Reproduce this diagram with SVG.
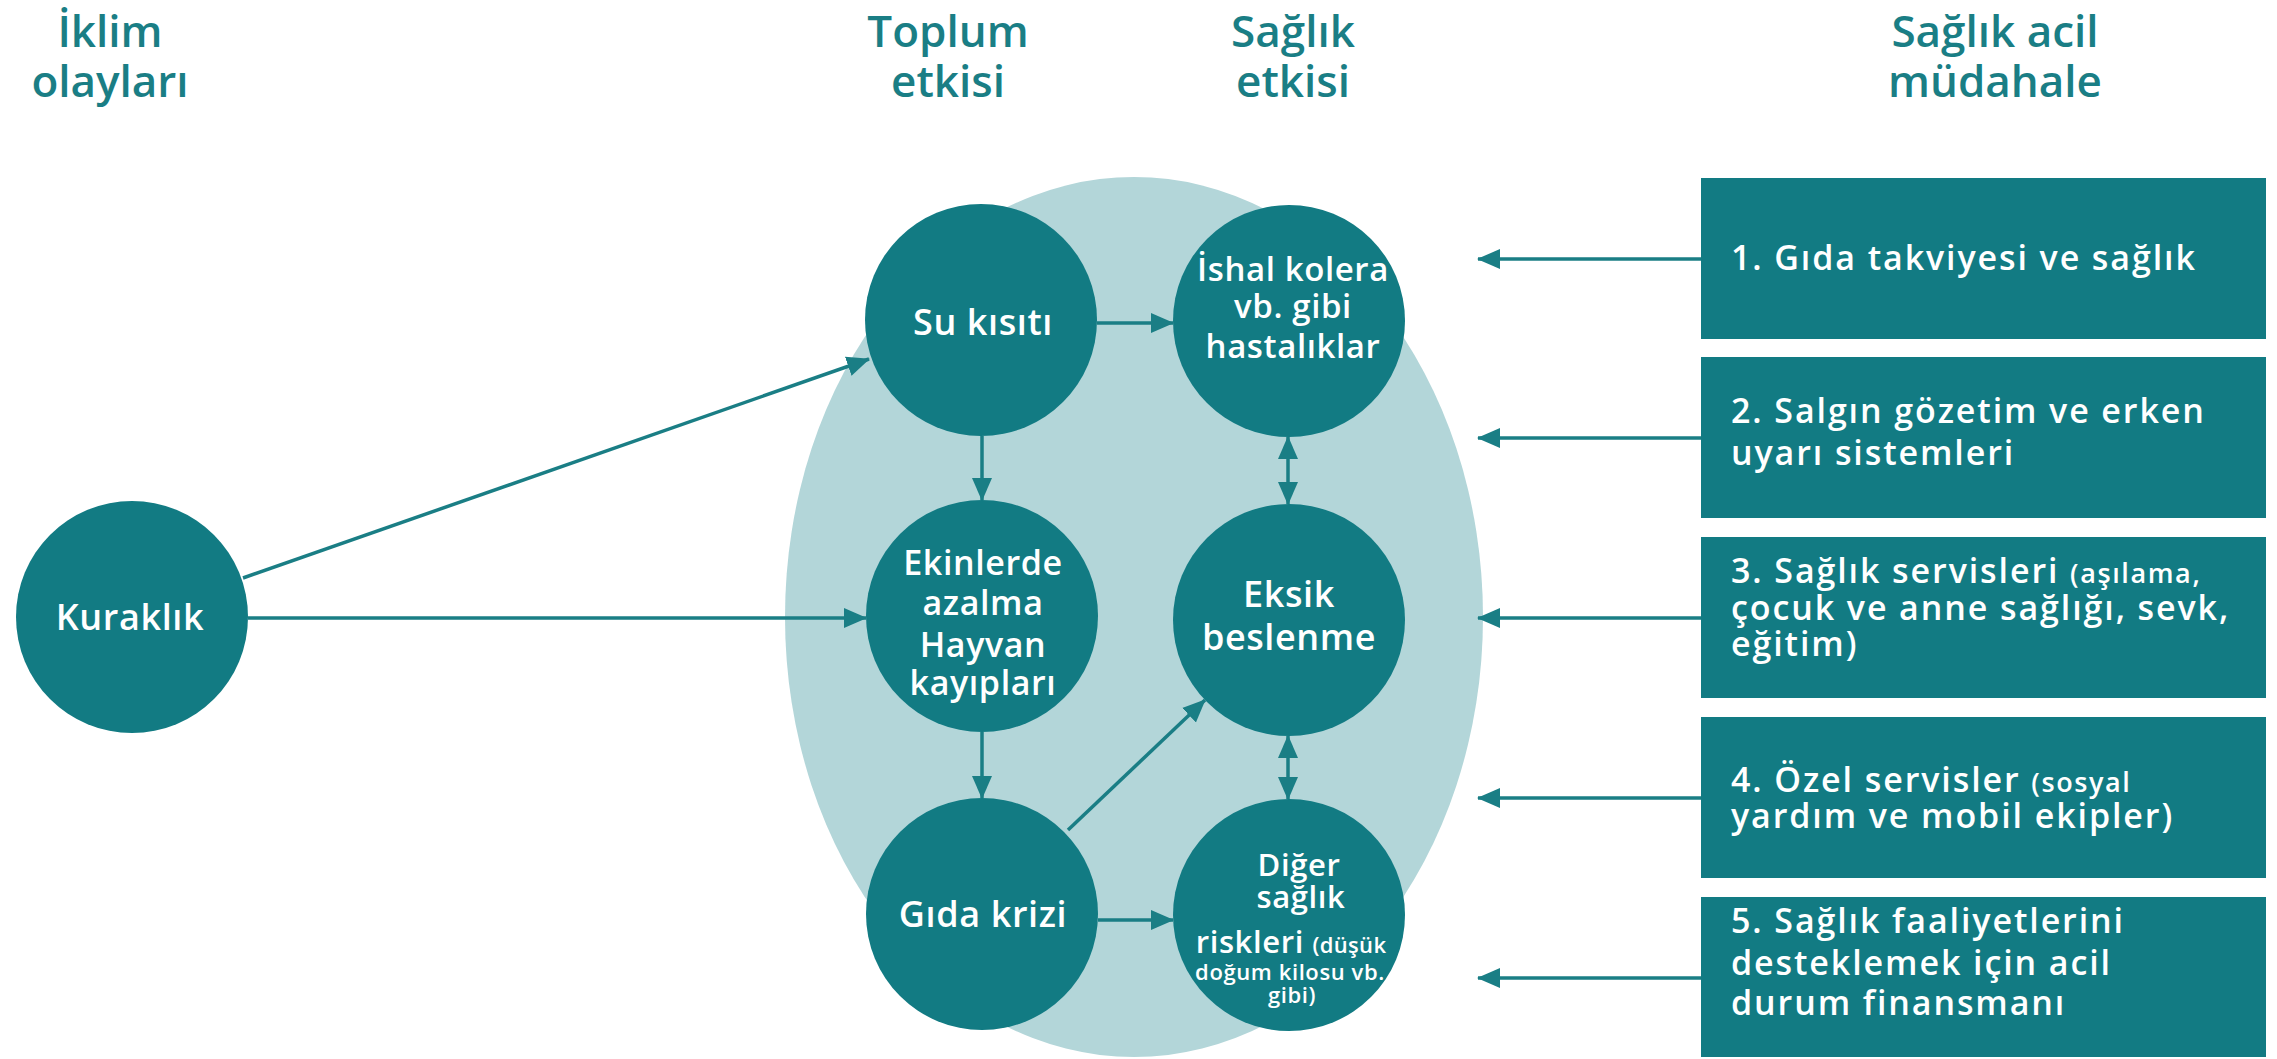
<svg xmlns="http://www.w3.org/2000/svg" width="2277" height="1059" viewBox="0 0 2277 1059">
<style>
.hdr{font-family:"Open Sans","Liberation Sans",sans-serif;font-weight:600;font-size:44px;fill:#1a7e85;text-anchor:middle}
.node{fill:#127b83}
.nt{font-family:"Open Sans","Liberation Sans",sans-serif;font-weight:600;fill:#ffffff;text-anchor:middle;letter-spacing:0.6px}
.bx{fill:#127b83}
.bt{font-family:"Open Sans","Liberation Sans",sans-serif;font-weight:600;font-size:34px;fill:#ffffff;letter-spacing:1.9px}
.sm{font-size:27px;letter-spacing:1.6px}
.cn{stroke:#1a7e85;stroke-width:3.5;fill:none}
</style>
<defs>
<marker id="ah" markerUnits="userSpaceOnUse" markerWidth="24" markerHeight="24" viewBox="0 0 24 24" refX="22" refY="12" orient="auto-start-reverse">
<path d="M0,2 L23,12 L0,22 Z" fill="#1a7e85"/>
</marker>
</defs>
<rect width="2277" height="1059" fill="#ffffff"/>

<g id="headers">
<text class="hdr" x="110" y="47">İklim</text>
<text class="hdr" x="110" y="97">olayları</text>
<text class="hdr" x="948" y="47">Toplum</text>
<text class="hdr" x="948" y="97">etkisi</text>
<text class="hdr" x="1293" y="47">Sağlık</text>
<text class="hdr" x="1293" y="97">etkisi</text>
<text class="hdr" x="1995" y="47">Sağlık acil</text>
<text class="hdr" x="1995" y="97">müdahale</text>
</g>

<g id="background">
<ellipse cx="1134" cy="617" rx="349" ry="440" fill="#b3d6d9"/>
</g>

<g id="connectors">
<line class="cn" x1="243" y1="578" x2="869" y2="359" marker-end="url(#ah)"/>
<line class="cn" x1="248" y1="618" x2="866" y2="618" marker-end="url(#ah)"/>
<line class="cn" x1="1097" y1="323" x2="1173" y2="323" marker-end="url(#ah)"/>
<line class="cn" x1="982" y1="436" x2="982" y2="500" marker-end="url(#ah)"/>
<line class="cn" x1="1288" y1="437" x2="1288" y2="504" marker-start="url(#ah)" marker-end="url(#ah)"/>
<line class="cn" x1="982" y1="732" x2="982" y2="798" marker-end="url(#ah)"/>
<line class="cn" x1="1068" y1="830" x2="1205" y2="700" marker-end="url(#ah)"/>
<line class="cn" x1="1098" y1="920" x2="1173" y2="920" marker-end="url(#ah)"/>
<line class="cn" x1="1288" y1="736" x2="1288" y2="799" marker-start="url(#ah)" marker-end="url(#ah)"/>
<line class="cn" x1="1701" y1="259" x2="1478" y2="259" marker-end="url(#ah)"/>
<line class="cn" x1="1701" y1="438" x2="1478" y2="438" marker-end="url(#ah)"/>
<line class="cn" x1="1701" y1="618" x2="1478" y2="618" marker-end="url(#ah)"/>
<line class="cn" x1="1701" y1="798" x2="1478" y2="798" marker-end="url(#ah)"/>
<line class="cn" x1="1701" y1="978" x2="1478" y2="978" marker-end="url(#ah)"/>
</g>

<g id="kuraklik">
<circle class="node" cx="132" cy="617" r="116"/>
<text class="nt" x="130" y="630" font-size="36">Kuraklık</text>
</g>
<g id="su-kisiti">
<circle class="node" cx="981" cy="320" r="116"/>
<text class="nt" x="983" y="335" font-size="36">Su kısıtı</text>
</g>
<g id="ishal">
<circle class="node" cx="1289" cy="321" r="116"/>
<text class="nt" x="1293" y="281" font-size="33">İshal kolera</text>
<text class="nt" x="1293" y="318" font-size="33">vb. gibi</text>
<text class="nt" x="1293" y="358" font-size="33">hastalıklar</text>
</g>
<g id="ekinlerde">
<circle class="node" cx="982" cy="616" r="116"/>
<text class="nt" x="983" y="575" font-size="34">Ekinlerde</text>
<text class="nt" x="983" y="615" font-size="34">azalma</text>
<text class="nt" x="983" y="657" font-size="34">Hayvan</text>
<text class="nt" x="983" y="695" font-size="34">kayıpları</text>
</g>
<g id="eksik-beslenme">
<circle class="node" cx="1289" cy="620" r="116"/>
<text class="nt" x="1289" y="607" font-size="36">Eksik</text>
<text class="nt" x="1289" y="650" font-size="36">beslenme</text>
</g>
<g id="gida-krizi">
<circle class="node" cx="982" cy="914" r="116"/>
<text class="nt" x="983" y="927" font-size="36">Gıda krizi</text>
</g>
<g id="diger">
<circle class="node" cx="1289" cy="915" r="116"/>
<text class="nt" x="1299" y="876" font-size="31">Diğer</text>
<text class="nt" x="1301" y="908" font-size="31">sağlık</text>
<text class="nt" x="1291" y="953" font-size="31">riskleri <tspan font-size="22" letter-spacing="0.3px">(düşük</tspan></text>
<text class="nt" x="1290" y="980" font-size="22" letter-spacing="0.3px">doğum kilosu vb.</text>
<text class="nt" x="1292" y="1003" font-size="22" letter-spacing="0.3px">gibi)</text>
</g>

<g id="box1">
<rect class="bx" x="1701" y="178" width="565" height="161"/>
<text class="bt" x="1731" y="270">1. Gıda takviyesi ve sağlık</text>
</g>
<g id="box2">
<rect class="bx" x="1701" y="357" width="565" height="161"/>
<text class="bt" x="1731" y="423">2. Salgın gözetim ve erken</text>
<text class="bt" x="1731" y="465">uyarı sistemleri</text>
</g>
<g id="box3">
<rect class="bx" x="1701" y="537" width="565" height="161"/>
<text class="bt" x="1731" y="583">3. Sağlık servisleri <tspan class="sm">(aşılama,</tspan></text>
<text class="bt" x="1731" y="620">çocuk ve anne sağlığı, sevk,</text>
<text class="bt" x="1731" y="656">eğitim)</text>
</g>
<g id="box4">
<rect class="bx" x="1701" y="717" width="565" height="161"/>
<text class="bt" x="1731" y="792">4. Özel servisler <tspan class="sm">(sosyal</tspan></text>
<text class="bt" x="1731" y="828">yardım ve mobil ekipler)</text>
</g>
<g id="box5">
<rect class="bx" x="1701" y="897" width="565" height="160"/>
<text class="bt" x="1731" y="933">5. Sağlık faaliyetlerini</text>
<text class="bt" x="1731" y="975">desteklemek için acil</text>
<text class="bt" x="1731" y="1015">durum finansmanı</text>
</g>
</svg>
